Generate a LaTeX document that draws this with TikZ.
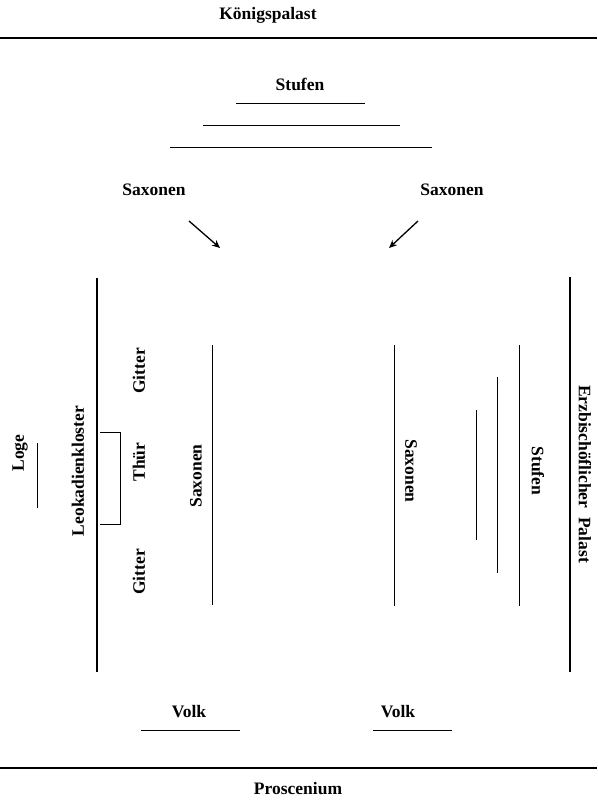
\documentclass[tikz,border=0pt]{standalone}
\usepackage{fontspec}
\setmainfont{Liberation Serif}
\usetikzlibrary{arrows.meta}
\tikzset{
  lbl/.style={inner sep=0pt, font=\fontsize{17.5}{20}\selectfont\bfseries},
  wall/.style={line width=1.1pt},
  bar/.style={line width=0.9pt},
  arr/.style={line width=1.3pt, -{Stealth[length=8pt,width=7pt]}}
}
\begin{document}
\begin{tikzpicture}[x=1pt,y=-1pt]
\useasboundingbox (0,0) rectangle (597,802);
% top
\node[lbl] (koenig) at (268,15) {K\"onigspalast};
\coordinate (t1) at (0,38); \coordinate (t2) at (597,38);
\draw[wall] (t1) -- (t2);
\node[lbl] (stufen) at (300,84) {Stufen};
\coordinate (s1a) at (236,103); \coordinate (s1b) at (365,103);
\coordinate (s2a) at (203,125); \coordinate (s2b) at (400,125);
\coordinate (s3a) at (170,147); \coordinate (s3b) at (432,147);
\draw[bar] (s1a) -- (s1b);
\draw[bar] (s2a) -- (s2b);
\draw[bar] (s3a) -- (s3b);
% Saxonen with arrows
\node[lbl] (saxL) at (154,190) {Saxonen};
\node[lbl] (saxR) at (452,190) {Saxonen};
\coordinate (aL1) at (189,221); \coordinate (aL2) at (220,248);
\coordinate (aR1) at (418,221); \coordinate (aR2) at (389,248);
\draw[arr] (aL1) -- (aL2);
\draw[arr] (aR1) -- (aR2);
% left side
\coordinate (lw1) at (97,278); \coordinate (lw2) at (97,672);
\draw[wall] (lw1) -- (lw2);
\node[lbl, rotate=90] (loge) at (20,453) {Loge};
\coordinate (lg1) at (37,443); \coordinate (lg2) at (37,508);
\draw[bar] (lg1) -- (lg2);
\node[lbl, rotate=90] (leo) at (78,471) {Leokadienkloster};
\coordinate (b1) at (100,432); \coordinate (b2) at (120,432);
\coordinate (b3) at (120,524); \coordinate (b4) at (100,524);
\draw[bar] (b1) -- (b2) -- (b3) -- (b4);
\node[lbl, rotate=90] (git1) at (139,371) {Gitter};
\node[lbl, rotate=90] (thuer) at (139,462) {Th\"ur};
\node[lbl, rotate=90] (git2) at (139,572) {Gitter};
\node[lbl, rotate=90] (saxML) at (196,476) {Saxonen};
\coordinate (v1a) at (212,345); \coordinate (v1b) at (212,605);
\draw[bar] (v1a) -- (v1b);
% right side
\coordinate (v2a) at (394,345); \coordinate (v2b) at (394,606);
\draw[bar] (v2a) -- (v2b);
\node[lbl, rotate=-90] (saxMR) at (411,471) {Saxonen};
\coordinate (r1a) at (476,410); \coordinate (r1b) at (476,540);
\coordinate (r2a) at (497,377); \coordinate (r2b) at (497,573);
\coordinate (r3a) at (519,345); \coordinate (r3b) at (519,606);
\draw[bar] (r1a) -- (r1b);
\draw[bar] (r2a) -- (r2b);
\draw[bar] (r3a) -- (r3b);
\node[lbl, rotate=-90] (stufR) at (538,471) {Stufen};
\coordinate (rw1) at (570,277); \coordinate (rw2) at (570,672);
\draw[wall] (rw1) -- (rw2);
\node[lbl, rotate=-90] (erz) at (585,474) {Erzbisch\"oflicher\ \ Palast};
% bottom
\node[lbl] (volkL) at (189,712) {Volk};
\coordinate (vl1) at (141,730); \coordinate (vl2) at (240,730);
\draw[bar] (vl1) -- (vl2);
\node[lbl] (volkR) at (398,712) {Volk};
\coordinate (vr1) at (373,730); \coordinate (vr2) at (452,730);
\draw[bar] (vr1) -- (vr2);
\coordinate (p1) at (0,768); \coordinate (p2) at (597,768);
\draw[wall] (p1) -- (p2);
\node[lbl] (pros) at (298,789) {Proscenium};
\end{tikzpicture}
\end{document}
